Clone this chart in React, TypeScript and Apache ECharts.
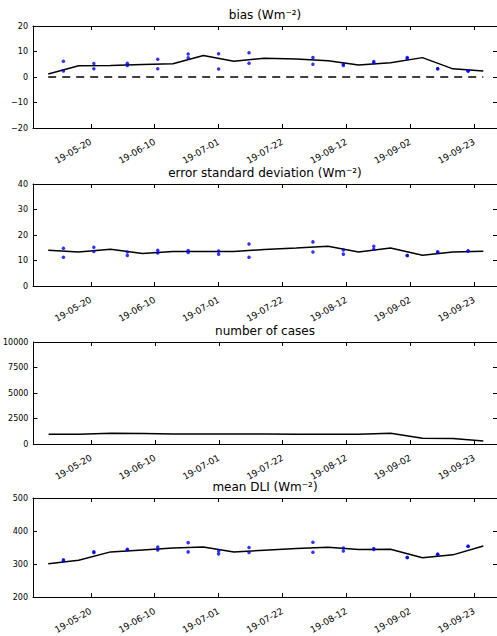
import React, { useEffect, useRef } from "react";
import * as echarts from "echarts";

// ---- data ----
const lineDates = [
  "2019-05-06T00:00:00Z", "2019-05-16T00:00:00Z", "2019-05-26T12:00:00Z",
  "2019-06-06T00:00:00Z", "2019-06-16T00:00:00Z", "2019-06-26T00:00:00Z",
  "2019-07-06T00:00:00Z", "2019-07-16T00:00:00Z", "2019-07-26T12:00:00Z",
  "2019-08-06T00:00:00Z", "2019-08-16T00:00:00Z", "2019-08-26T12:00:00Z",
  "2019-09-06T00:00:00Z", "2019-09-16T00:00:00Z", "2019-09-26T00:00:00Z",
];
const dotDates = [
  "2019-05-11T00:00:00Z", "2019-05-21T00:00:00Z", "2019-06-01T00:00:00Z",
  "2019-06-11T00:00:00Z", "2019-06-21T00:00:00Z", "2019-07-01T00:00:00Z",
  "2019-07-11T00:00:00Z", "2019-07-21T00:00:00Z", "2019-08-01T00:00:00Z",
  "2019-08-11T00:00:00Z", "2019-08-21T00:00:00Z", "2019-09-01T00:00:00Z",
  "2019-09-11T00:00:00Z", "2019-09-21T00:00:00Z",
];
const xTickDates = [
  "2019-05-20T00:00:00Z", "2019-06-10T00:00:00Z", "2019-07-01T00:00:00Z",
  "2019-07-22T00:00:00Z", "2019-08-12T00:00:00Z", "2019-09-02T00:00:00Z",
  "2019-09-23T00:00:00Z",
];
const xMinDate = "2019-05-01T00:00:00Z";
const xMaxDate = "2019-09-30T12:00:00Z";

const biasLine = [1.2, 4.4, 4.5, 4.9, 5.2, 8.4, 6.2, 7.4, 7.1, 6.4, 4.7, 5.6, 7.6, 3.2, 2.4];
const biasDotsA = [6.2, 5.3, 5.4, 7.0, 9.0, 9.1, 9.5, null, 7.6, 5.0, 6.1, 7.6, 3.2, 2.4];
const biasDotsB = [2.4, 3.2, 4.5, 3.2, 7.5, 3.1, 5.4, null, 5.0, 4.5, 5.6, 7.3, 3.2, 2.4];

const sdLine = [14.0, 13.3, 14.4, 12.7, 13.5, 13.5, 13.5, 14.3, 14.9, 15.6, 13.3, 14.9, 12.1, 13.3, 13.6];
const sdDotsA = [14.8, 15.2, 13.3, 14.0, 13.9, 13.7, 16.5, null, 17.3, 14.1, 15.6, 12.0, 13.3, 13.7];
const sdDotsB = [11.3, 13.5, 12.0, 12.9, 13.1, 12.5, 11.3, null, 13.3, 12.5, 14.4, 12.0, 13.3, 13.7];

const casesLine = [950, 950, 1050, 1020, 980, 970, 970, 970, 960, 960, 960, 1050, 560, 540, 300];

const dliLine = [301, 312, 337, 343, 349, 352, 337, 342, 347, 351, 344, 345, 319, 328, 355];
const dliDotsA = [313, 337, 345, 352, 365, 340, 350, null, 366, 349, 347, 320, 330, 354];
const dliDotsB = [310, 335, 343, 343, 337, 331, 335, null, 336, 340, 344, 320, 330, 354];

const titles = [
  "bias (Wm\u207B\u00B2)",
  "error standard deviation (Wm\u207B\u00B2)",
  "number of cases",
  "mean DLI (Wm\u207B\u00B2)",
];
const yRanges = [
  { min: -20, max: 20, interval: 10 },
  { min: 0, max: 40, interval: 10 },
  { min: 0, max: 10000, interval: 2500 },
  { min: 200, max: 500, interval: 100 },
];

const FONT = "DejaVu Sans";
const gridTops = [26, 184, 342, 498];
const gridHeight = 102;

const ts = (s: string) => Date.parse(s);

function fmtDate(v: number) {
  const d = new Date(v);
  const p = (n: number) => (n < 10 ? "0" + n : "" + n);
  return p(d.getUTCFullYear() % 100) + "-" + p(d.getUTCMonth() + 1) + "-" + p(d.getUTCDate());
}

export default function App() {
  const ref = useRef<HTMLDivElement>(null);
  useEffect(() => {
    if (!ref.current) return;
    document.body.style.margin = "0";
    const chart = echarts.init(ref.current, null, { renderer: "svg" });
    const tMin = ts(xMinDate);
    const tMax = ts(xMaxDate);
    const tickTs = xTickDates.map(ts);
    const lineX = lineDates.map(ts);
    const dotX = dotDates.map(ts);

    const grids: any[] = [];
    const xAxes: any[] = [];
    const yAxes: any[] = [];
    const titleOpts: any[] = [];
    const axisLineStyle = { color: "#000", width: 1 };

    for (let i = 0; i < 4; i++) {
      grids.push({ left: 33, right: -1, top: gridTops[i], height: gridHeight, containLabel: false });
      xAxes.push({
        type: "value", gridIndex: i, position: "bottom", min: tMin, max: tMax, scale: true,
        axisLine: { show: true, onZero: false, lineStyle: axisLineStyle },
        axisTick: { show: true, inside: true, length: 4, customValues: tickTs, lineStyle: axisLineStyle },
        axisLabel: {
          show: true, rotate: 30, margin: 13, fontSize: 9, color: "#000", fontFamily: FONT,
          customValues: tickTs, formatter: (v: number) => fmtDate(v),
        },
        splitLine: { show: false },
      });
      xAxes.push({
        type: "value", gridIndex: i, position: "top", min: tMin, max: tMax, scale: true,
        axisLine: { show: true, onZero: false, lineStyle: axisLineStyle },
        axisTick: { show: true, inside: true, length: 4, customValues: tickTs, lineStyle: axisLineStyle },
        axisLabel: { show: false },
        splitLine: { show: false },
      });
      const yr = yRanges[i];
      yAxes.push({
        type: "value", gridIndex: i, position: "left", min: yr.min, max: yr.max, interval: yr.interval,
        axisLine: { show: true, onZero: false, lineStyle: axisLineStyle },
        axisTick: { show: true, inside: true, length: 4, lineStyle: axisLineStyle },
        axisLabel: {
          show: true, fontSize: 8, margin: 5, color: "#000", fontFamily: FONT,
          formatter: (v: number) => (v < 0 ? "\u2212" + Math.abs(v) : String(v)),
        },
        splitLine: { show: false },
      });
      yAxes.push({
        type: "value", gridIndex: i, position: "right", min: yr.min, max: yr.max, interval: yr.interval,
        axisLine: { show: true, onZero: false, lineStyle: axisLineStyle },
        axisTick: { show: true, inside: true, length: 4, lineStyle: axisLineStyle },
        axisLabel: { show: false },
        splitLine: { show: false },
      });
      titleOpts.push({
        text: titles[i], left: 265, top: gridTops[i] - 17, textAlign: "center", padding: 0,
        textStyle: { fontSize: 12, fontWeight: "normal", color: "#000", fontFamily: FONT },
      });
    }

    const lineSeries = (idx: number, vals: number[], name: string) => ({
      type: "line", name, xAxisIndex: idx * 2, yAxisIndex: idx * 2,
      data: lineX.map((x, k) => [x, vals[k]]),
      symbol: "none", showSymbol: false,
      lineStyle: { color: "#000", width: 1.5 },
      z: 3,
    });
    const dotSeries = (idx: number, vals: (number | null)[], name: string) => ({
      type: "scatter", name, xAxisIndex: idx * 2, yAxisIndex: idx * 2,
      data: dotX.map((x, k) => [x, vals[k]]).filter((d) => d[1] !== null),
      symbol: "circle", symbolSize: 3.5,
      itemStyle: { color: "#0000ff" },
      z: 4,
    });

    const zeroLine = {
      type: "line", name: "zero", xAxisIndex: 0, yAxisIndex: 0,
      data: [[lineX[0], 0], [lineX[lineX.length - 1], 0]],
      symbol: "none", showSymbol: false,
      lineStyle: { color: "#000", width: 1.5, type: [8, 6] },
      z: 2,
    };

    chart.setOption({
      animation: false,
      backgroundColor: "#fff",
      title: titleOpts,
      grid: grids,
      xAxis: xAxes,
      yAxis: yAxes,
      tooltip: { show: false },
      series: [
        zeroLine,
        lineSeries(0, biasLine, "bias"),
        dotSeries(0, biasDotsA, "bias obs A"),
        dotSeries(0, biasDotsB, "bias obs B"),
        lineSeries(1, sdLine, "error sd"),
        dotSeries(1, sdDotsA, "sd obs A"),
        dotSeries(1, sdDotsB, "sd obs B"),
        lineSeries(2, casesLine, "cases"),
        lineSeries(3, dliLine, "mean DLI"),
        dotSeries(3, dliDotsA, "dli obs A"),
        dotSeries(3, dliDotsB, "dli obs B"),
      ],
    });
    return () => chart.dispose();
  }, []);
  return <div ref={ref} style={{ width: 497, height: 636, background: "#fff" }} />;
}
